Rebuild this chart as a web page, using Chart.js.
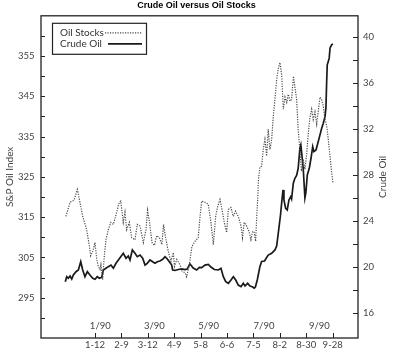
<!DOCTYPE html>
<html>
<head>
<meta charset="utf-8">
<script src="https://cdn.jsdelivr.net/npm/chart.js@4.4.1/dist/chart.umd.min.js"></script>
<style>
  html, body { margin: 0; padding: 0; background: #fff; }
  #wrap { width: 393px; height: 361px; }
</style>
</head>
<body>
<div id="wrap"><canvas id="chart"></canvas></div>
<script>
// x values are trading-day counts (1-12 = 20, every 4 weeks = +20)
const stockDays = [-2, 1.1, 4.1, 6.6, 8.6, 10.7, 13.7, 15.7, 16.7, 18.3, 20, 21.3, 22.5, 23.8, 24.5, 25.8, 26.8, 28.3, 30.1, 31.9,
    33.9, 36.4, 38.4, 39.5, 41.4, 42.7, 44, 46, 47.8, 50.3, 52, 54.1, 56.6, 58.6, 59.8, 61.3, 63.2, 65, 66.7, 68.8,
    70.7, 71.9, 73.5, 75.5, 77.5, 79.3, 80.2, 81.9, 84.4, 85.9, 88.2, 89.4, 91.6, 93.4, 95.7, 98.2, 99.5, 100.8, 103.3, 105.8,
    107.8, 109.6, 111.4, 112.9, 114.7, 116.4, 117.9, 119.7, 121, 123, 124.7, 126.5, 128.5, 130.6, 131.7, 133, 134.9, 136.6, 138.1, 139.4,
    140.6, 141.7, 142.4, 143.2, 143.8, 144.9, 146.2, 147.4, 148.7, 150, 151.2, 152.5, 153.8, 155, 156.3, 157.6, 158.8, 160.1, 161.4, 162.6,
    163.9, 165.2, 166.4, 167.7, 168.9, 170.3, 171.4, 172.7, 173.9, 175.2, 176.4, 177.7, 179, 180.3, 181.5, 182.8, 184.1, 185.3, 186.6, 187.9,
    189.1, 190.4, 191.7, 192.9, 194.2, 195.5, 196.7, 198, 199.2, 200.2];
const stockValues = [315.2, 318.7, 319.2, 321.9, 318.7, 315.2, 311.9, 307.9, 305.4, 306.5, 308.7, 304.5, 302.8, 302.0, 303.2, 299.5, 304.5, 309.4, 311.9, 313.7,
    313.2, 316.2, 318.7, 319.0, 313.7, 316.2, 311.9, 313.7, 309.9, 309.4, 313.2, 312.8, 308.7, 311.9, 316.7, 313.7, 308.7, 308.0, 310.4, 309.9,
    308.2, 313.2, 309.9, 306.5, 304.0, 306.2, 302.8, 304.5, 303.2, 301.6, 301.2, 300.2, 303.5, 307.7, 309.0, 309.9, 314.9, 319.0, 318.7, 318.2,
    313.7, 308.2, 315.2, 317.7, 319.4, 316.5, 313.7, 311.2, 316.9, 317.4, 315.2, 316.5, 315.2, 312.8, 309.9, 313.7, 312.8, 311.5, 309.4, 311.5,
    311.2, 309.0, 314.4, 319.4, 324.4, 327.4, 327.7, 331.8, 334.3, 330.2, 336.8, 331.8, 334.3, 339.8, 344.3, 349.3, 351.8, 353.4, 350.3, 341.8,
    344.8, 343.5, 345.5, 343.8, 344.3, 350.0, 347.3, 344.3, 336.8, 331.8, 326.4, 329.4, 326.9, 330.6, 335.6, 339.8, 341.8, 339.3, 341.1, 338.1,
    341.3, 344.8, 344.1, 342.6, 339.3, 337.6, 334.3, 330.1, 326.1, 323.6];

const crudeDays = [-2.5, -1.4, -0.2, 1.1, 2.4, 3.6, 5.6, 7.4, 9.2, 10.7, 12.4, 14.2, 16.2, 18.3, 20, 21.7, 23.3, 25.1, 26.3, 28.3,
    30.1, 32.1, 33.9, 35.9, 37.7, 39.5, 41.4, 43.5, 45.2, 46.5, 48.3, 50.3, 52, 54.1, 56.1, 57.9, 59.6, 61.6, 63.7, 65.4,
    67.2, 69.2, 71.3, 73, 74.3, 76.3, 78.1, 78.8, 80.6, 83.1, 85.7, 88.1, 89.9, 91.9, 93.2, 94.4, 97, 99, 100.8, 103.3,
    105.8, 107.8, 110.4, 113.4, 115.4, 117.2, 119, 121, 123, 124.8, 126.6, 128.5, 130.6, 132.3, 133.6, 135.6, 137.4, 139.1, 140.6, 141.5,
    142.9, 143.8, 144.9, 146.2, 148.4, 150, 151.2, 153.8, 156.3, 157.6, 158.8, 160.5, 161.6, 162.4, 163.1, 164.4, 165.6, 166.9, 168.2, 168.9,
    170.2, 171.4, 172.7, 173.9, 175.2, 175.9, 176.7, 177.7, 179, 179.7, 180.8, 182.3, 183.6, 184.9, 185.8, 187.4, 189.1, 190.4, 191.7, 192.9,
    194.2, 194.9, 195.4, 195.9, 196.7, 197.4, 198, 199.2, 200.2];
const crudeValues = [18.72, 19.16, 19.02, 19.22, 18.96, 19.30, 19.59, 19.74, 20.46, 19.74, 19.16, 19.59, 19.30, 19.02, 18.93, 19.16, 19.02, 19.10, 19.74, 19.89,
    20.03, 20.17, 19.89, 20.32, 20.61, 20.90, 21.19, 20.76, 20.96, 20.61, 21.48, 21.19, 20.90, 21.04, 20.76, 20.17, 20.32, 20.61, 20.46, 20.32,
    20.46, 20.52, 20.67, 20.90, 20.76, 20.46, 20.17, 19.74, 19.70, 19.78, 19.83, 19.78, 19.83, 20.26, 20.09, 19.91, 19.74, 19.96, 19.94, 20.17,
    20.22, 20.00, 19.78, 19.74, 19.89, 19.16, 18.72, 18.58, 18.87, 19.16, 18.87, 18.43, 18.29, 18.58, 18.35, 18.58, 18.35, 18.29, 18.17, 18.26,
    18.87, 19.39, 20.03, 20.48, 20.52, 20.83, 21.04, 21.19, 21.48, 21.83, 22.93, 24.52, 25.83, 26.70, 25.83, 25.10, 24.96, 25.83, 26.11, 25.91,
    27.28, 27.71, 27.96, 28.58, 30.32, 30.61, 29.74, 28.58, 26.00, 26.43, 28.00, 28.58, 29.45, 30.46, 30.03, 30.17, 30.90, 31.48, 32.06, 32.50,
    33.07, 33.80, 35.83, 37.57, 37.85, 38.17, 39.02, 39.30, 39.39];

const dateTickDays = [20, 40, 60, 80, 100, 120, 140, 160, 180, 200];
const dateTickLabels = ['1-12', '2-9', '3-12', '4-9', '5-8', '6-6', '7-5', '8-2', '8-30', '9-28'];
const monthDays = [24, 65, 106, 148, 190];
const monthLabels = ['1/90', '3/90', '5/90', '7/90', '9/90'];
const leftTicks = [290, 295, 300, 305, 310, 315, 320, 325, 330, 335, 340, 345, 350, 355, 360];
const rightTicks = [16, 18, 20, 22, 24, 26, 28, 30, 32, 34, 36, 38, 40];
const axisTitles = ['S&P Oil Index', 'Crude Oil'];

const ink = '#222';
const labelColor = '#444';
Chart.defaults.font.family = 'Lato';

const toPoints = (xs, ys) => xs.map((x, i) => ({ x: x, y: ys[i] }));

// box round the plot, inward tick marks, month labels, axis titles and legend
const frame = {
    id: 'frame',
    afterDraw(chart) {
        const ctx = chart.ctx;
        const a = chart.chartArea;
        const sx = chart.scales.x, sl = chart.scales.yL, sr = chart.scales.yR;
        ctx.save();
        ctx.strokeStyle = ink;
        ctx.lineWidth = 1.3;
        ctx.strokeRect(a.left, a.top, a.right - a.left, a.bottom - a.top);
        ctx.lineWidth = 1;
        ctx.beginPath();
        leftTicks.forEach(v => {
            const y = Math.round(sl.getPixelForValue(v)) + 0.5;
            ctx.moveTo(a.left, y); ctx.lineTo(a.left + 4, y);
        });
        rightTicks.forEach(v => {
            const y = Math.round(sr.getPixelForValue(v)) + 0.5;
            ctx.moveTo(a.right - 5, y); ctx.lineTo(a.right, y);
        });
        dateTickDays.forEach(v => {
            const x = Math.round(sx.getPixelForValue(v)) + 0.5;
            ctx.moveTo(x, a.bottom - 5); ctx.lineTo(x, a.bottom);
        });
        ctx.stroke();

        ctx.fillStyle = labelColor;
        ctx.font = '9.5px Lato';
        ctx.textAlign = 'center';
        ctx.textBaseline = 'middle';
        monthDays.forEach((d, i) => {
            ctx.fillText(monthLabels[i], sx.getPixelForValue(d), a.bottom - 12);
        });

        // rotated axis titles
        const midY = (a.top + a.bottom) / 2;
        ctx.font = '10px Lato';
        ctx.save();
        ctx.translate(10, midY);
        ctx.rotate(-Math.PI / 2);
        ctx.fillText(axisTitles[0], 0, 0);
        ctx.restore();
        ctx.save();
        ctx.translate(a.right + 25, midY);
        ctx.rotate(-Math.PI / 2);
        ctx.fillText(axisTitles[1], 0, 0);
        ctx.restore();

        // legend
        const lx = a.left + 11, ly = a.top + 7;
        ctx.lineWidth = 1.2;
        ctx.strokeStyle = ink;
        ctx.strokeRect(lx + 0.5, ly + 0.5, 94, 31);
        ctx.textAlign = 'left';
        ctx.fillStyle = '#333';
        const ds = chart.data.datasets;
        ctx.fillText(ds[0].label, lx + 8, ly + 10);
        ctx.fillText(ds[1].label, lx + 8, ly + 21);
        ctx.beginPath();
        ctx.setLineDash(ds[0].borderDash);
        ctx.lineWidth = ds[0].borderWidth;
        ctx.strokeStyle = ds[0].borderColor;
        ctx.moveTo(lx + 53, ly + 10); ctx.lineTo(lx + 90, ly + 10);
        ctx.stroke();
        ctx.beginPath();
        ctx.setLineDash([]);
        ctx.lineWidth = ds[1].borderWidth;
        ctx.strokeStyle = ds[1].borderColor;
        ctx.moveTo(lx + 56, ly + 21); ctx.lineTo(lx + 90, ly + 21);
        ctx.stroke();
        ctx.restore();
    }
};

new Chart(document.getElementById('chart'), {
    type: 'line',
    data: {
        datasets: [{
            label: 'Oil Stocks',
            data: toPoints(stockDays, stockValues),
            yAxisID: 'yL',
            borderColor: '#4a4a4a',
            borderWidth: 1.2,
            borderDash: [1.2, 1.3],
            pointRadius: 0,
            tension: 0
        }, {
            label: 'Crude Oil',
            data: toPoints(crudeDays, crudeValues),
            yAxisID: 'yR',
            borderColor: '#1a1a1a',
            borderWidth: 1.7,
            pointRadius: 0,
            tension: 0
        }]
    },
    options: {
        responsive: true,
        maintainAspectRatio: false,
        animation: false,
        layout: { padding: 0 },
        plugins: {
            legend: { display: false },
            tooltip: { enabled: false },
            title: {
                display: true,
                text: 'Crude Oil versus Oil Stocks',
                color: '#000',
                font: { family: 'Liberation Sans', size: 9, weight: 'bold' },
                padding: { top: 0, bottom: 5 }
            }
        },
        scales: {
            x: {
                type: 'linear',
                min: -20.9,
                max: 219.2,
                grid: { display: false, drawTicks: false },
                border: { display: false },
                afterBuildTicks: s => { s.ticks = dateTickDays.map(v => ({ value: v })); },
                afterFit: s => { s.height = 23; },
                ticks: {
                    autoSkip: false,
                    maxRotation: 0,
                    padding: 1,
                    color: labelColor,
                    font: { size: 9.5 },
                    callback: v => dateTickLabels[dateTickDays.indexOf(v)] || ''
                }
            },
            yL: {
                position: 'left',
                min: 285,
                max: 365,
                grid: { display: false, drawTicks: false },
                border: { display: false },
                afterBuildTicks: s => { s.ticks = leftTicks.map(v => ({ value: v })); },
                afterFit: s => { s.width = 41; },
                ticks: {
                    autoSkip: false,
                    padding: 6.5,
                    color: labelColor,
                    font: { size: 9.5 },
                    callback: v => (v % 10 === 5 ? String(v) : '')
                }
            },
            yR: {
                position: 'right',
                min: 13.83,
                max: 41.83,
                grid: { display: false, drawTicks: false },
                border: { display: false },
                afterBuildTicks: s => { s.ticks = rightTicks.map(v => ({ value: v })); },
                afterFit: s => { s.width = 35; },
                ticks: {
                    autoSkip: false,
                    padding: 5,
                    color: labelColor,
                    font: { size: 9.5 },
                    callback: v => (v % 4 === 0 ? String(v) : '')
                }
            }
        }
    },
    plugins: [frame]
});
</script>
</body>
</html>
